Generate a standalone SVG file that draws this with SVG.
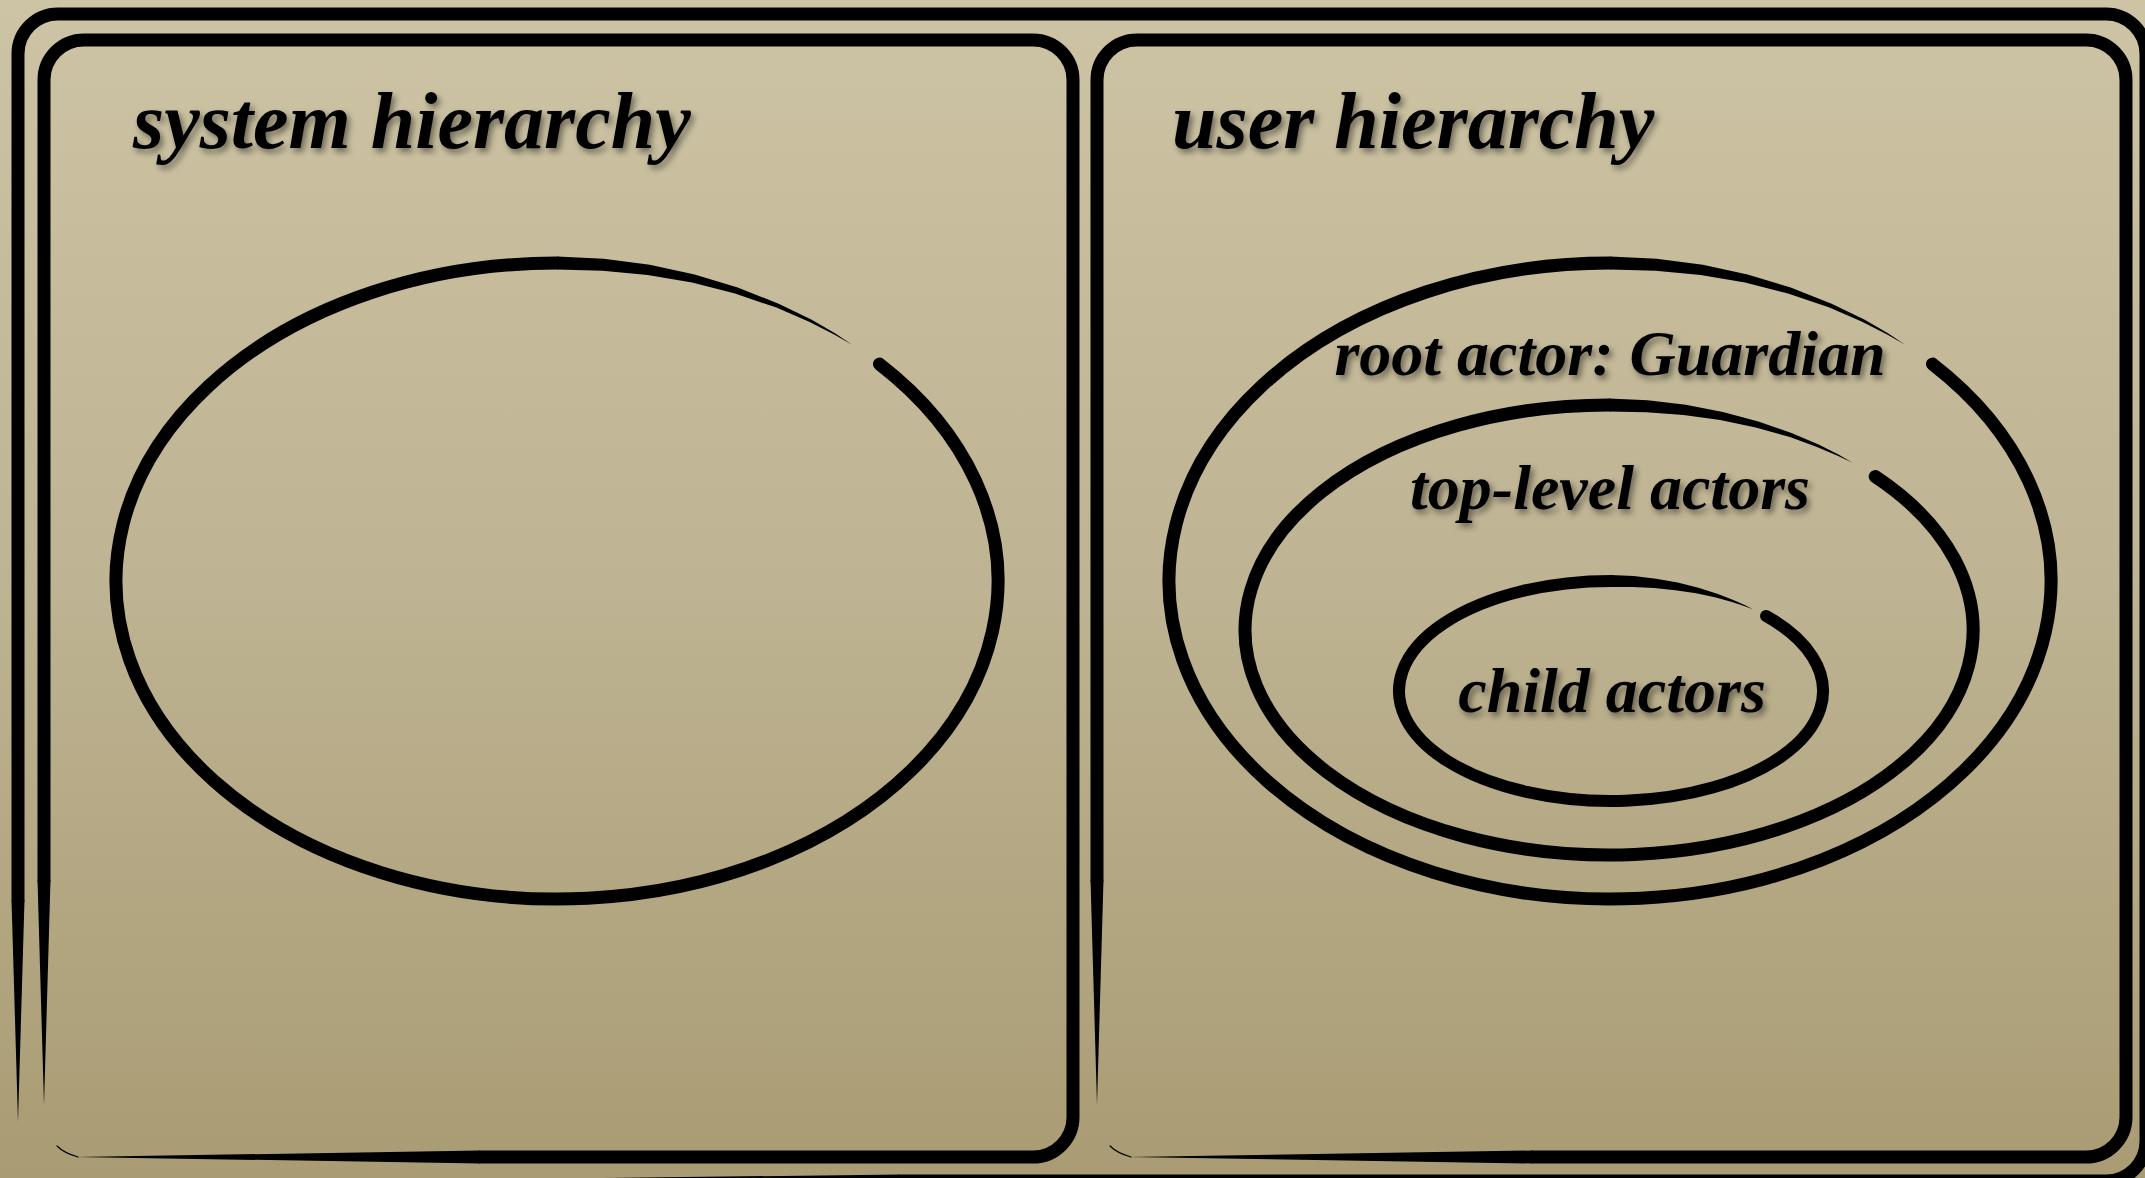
<svg xmlns="http://www.w3.org/2000/svg" width="2145" height="1178" viewBox="0 0 2145 1178">
<defs>
<linearGradient id="bg" x1="0" y1="0" x2="0" y2="1">
<stop offset="0" stop-color="#cdc4a5"/>
<stop offset="0.5" stop-color="#beb392"/>
<stop offset="1" stop-color="#a99c74"/>
</linearGradient>
<filter id="sh" x="-10%" y="-30%" width="125%" height="170%">
<feDropShadow dx="3" dy="4" stdDeviation="3" flood-color="#000" flood-opacity="0.45"/>
</filter>
</defs>
<style>
.ln{fill:none;stroke:#000;stroke-linecap:round;stroke-linejoin:round}
.tp{fill:#000;stroke:none}
.t{font-family:"Liberation Serif","Times New Roman",serif;font-weight:bold;font-style:italic;fill:#000;filter:url(#sh)}
</style>
<rect x="0" y="0" width="2145" height="1178" fill="url(#bg)"/>

<g id="outer-frame">
<path class="ln" stroke-width="13" d="M18 900 L18 54 A40 40 0 0 1 58 14 L2106 14 A40 40 0 0 1 2146 54 L2146 1141 A40 40 0 0 1 2106 1181 L900 1181"/>
<polygon class="tp" points="11.5,900 24.5,900 18,1122"/>
<polygon class="tp" points="900,1174.5 900,1187.5 350,1181"/>
</g>

<g id="panel-system">
<path class="ln" stroke-width="13" d="M44 880 L44 80 A40 40 0 0 1 84 40 L1033 40 A40 40 0 0 1 1073 80 L1073 1117 A40 40 0 0 1 1033 1157 L480 1157"/>
<polygon class="tp" points="37.5,880 50.5,880 44,1105"/>
<polygon class="tp" points="480,1150.5 480,1163.5 75,1157"/>
<path class="ln" stroke-width="1.2" d="M57 1146 Q64 1153 78 1157"/>
<text class="t" x="133" y="148" font-size="80">system hierarchy</text>
</g>

<g id="panel-user">
<g transform="translate(1053,0)">
<path class="ln" stroke-width="13" d="M44 880 L44 80 A40 40 0 0 1 84 40 L1033 40 A40 40 0 0 1 1073 80 L1073 1117 A40 40 0 0 1 1033 1157 L480 1157"/>
<polygon class="tp" points="37.5,880 50.5,880 44,1105"/>
<polygon class="tp" points="480,1150.5 480,1163.5 75,1157"/>
<path class="ln" stroke-width="1.2" d="M57 1146 Q64 1153 78 1157"/>
</g>
<text class="t" x="1172" y="148" font-size="80">user hierarchy</text>
</g>

<g id="system-ellipse">
<path class="ln" stroke-width="13" d="M879.5 364.1 A441 318 0 1 1 557 263"/>
<path class="tp" d="M557 256.5 L603.7 258.8 L649.8 264.8 L694.6 274.5 L737.7 287.5 L778.6 303.7 L810.8 319.3 L835 333.3 L852.1 344.7 L834.1 334.5 L809.1 321.7 L776.4 307.6 L735 293.5 L692 282.6 L647.6 275.1 L602.5 270.7 L557 269.5 Z"/>
</g>

<g id="root-actor">
<g transform="translate(1053,0)">
<path class="ln" stroke-width="13" d="M879.5 364.1 A441 318 0 1 1 557 263"/>
<path class="tp" d="M557 256.5 L603.7 258.8 L649.8 264.8 L694.6 274.5 L737.7 287.5 L778.6 303.7 L810.8 319.3 L835 333.3 L852.1 344.7 L834.1 334.5 L809.1 321.7 L776.4 307.6 L735 293.5 L692 282.6 L647.6 275.1 L602.5 270.7 L557 269.5 Z"/>
</g>
<text class="t" x="1610" y="375" font-size="64" text-anchor="middle">root actor: Guardian</text>
</g>

<g id="top-level-actors">
<path class="ln" stroke-width="13" d="M1875.2 476.5 A364 225 0 1 1 1609 405"/>
<path class="tp" d="M1609 398.5 L1647.7 400.3 L1685.8 404.8 L1722.8 412 L1758.4 421.5 L1792.1 433.2 L1818.6 444.5 L1838.5 454.6 L1852.6 462.8 L1837.6 455.7 L1816.9 446.9 L1789.9 437.1 L1755.7 427.4 L1720.2 420 L1683.6 415.1 L1646.4 412.2 L1609 411.5 Z"/>
<text class="t" x="1610" y="509" font-size="64" text-anchor="middle">top-level actors</text>
</g>

<g id="child-actors">
<path class="ln" stroke-width="12" d="M1766.1 616 A212 110 0 1 1 1611 581"/>
<path class="tp" d="M1611 575 L1633.7 576.1 L1656.1 578.8 L1677.7 582.6 L1698.4 587.8 L1718 594 L1733.3 599.9 L1744.8 605.1 L1752.8 609.3 L1744 606 L1731.9 601.9 L1716 597.5 L1696 593.3 L1675.3 590.2 L1654.1 588.1 L1632.6 587.1 L1611 587 Z"/>
<text class="t" x="1612" y="712" font-size="64" text-anchor="middle">child actors</text>
</g>

<g id="connectors"/>
</svg>
